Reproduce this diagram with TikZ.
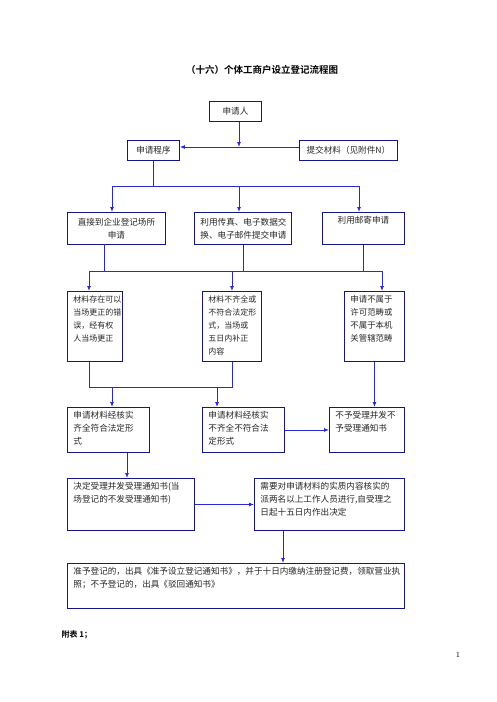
\documentclass[tikz,border=0pt]{standalone}
\usepackage{fontspec}
\usepackage{xcolor}
\usepackage{tikz}
\usetikzlibrary{arrows.meta}

\newfontfamily\cjk[BoldFont={Noto Sans CJK SC Bold}]{Noto Sans CJK SC}
\definecolor{boxblue}{RGB}{20,20,140}
\definecolor{lineblue}{RGB}{40,40,215}
\newcommand{\toptext}[3]{\parbox[t][#2][t]{#1}{#3}}

\begin{document}
\begin{tikzpicture}[x=1pt, y=-1pt,
    box/.style={draw=boxblue, line width=0.9pt, anchor=north west, inner xsep=6pt, inner ysep=4pt,
      text=black!85, font=\cjk\fontsize{8.6}{13}\selectfont},
    wire/.style={draw=lineblue, line width=0.9pt},
    link/.style={wire, -{Latex[length=5pt, width=4pt]}}]
  \useasboundingbox[fill=white] (0,0) rectangle (496,702);

  % Title
  \node[font=\cjk\bfseries\fontsize{9.5}{11}\selectfont] (title) at (262,70) {（十六）个体工商户设立登记流程图};

  % Applicant and procedure
  \node[box, inner sep=0pt, minimum width=52pt, minimum height=20pt] (apply) at (209,101) {申请人};
  \node[box, inner sep=0pt, minimum width=52pt, minimum height=20pt] (proc) at (127,140) {申请程序};
  \node[box, inner sep=0pt, minimum width=98pt, minimum height=20pt] (submit) at (299,140) {提交材料（见附件N）};

  % Three ways to apply
  \node[box, text width=86pt, align=center, minimum height=32pt] (direct) at (67,212) {直接到企业登记场所\\申请};
  \node[box, text width=85pt, align=center, minimum height=32pt] (fax) at (194,212) {利用传真、电子数据交\\换、电子邮件提交申请};
  \node[box] (mail) at (322,212) {\toptext{70pt}{24pt}{\centering 利用邮寄申请}};

  % Checking the materials
  \node[box, font=\cjk\fontsize{8}{13}\selectfont] (mat_ok) at (67,291) {\toptext{43pt}{62pt}{材料存在可以\\当场更正的错\\误，经有权\\人当场更正}};
  \node[box, font=\cjk\fontsize{8}{13}\selectfont] (mat_fix) at (202,291) {\toptext{47pt}{62pt}{材料不齐全或\\不符合法定形\\式，当场或\\五日内补正\\内容}};
  \node[box, font=\cjk\fontsize{8.4}{13}\selectfont] (mat_out) at (344,291) {\toptext{48pt}{62pt}{申请不属于\\许可范畴或\\不属于本机\\关管辖范畴}};

  % Outcome of the check
  \node[box] (ok_form) at (67,407) {\toptext{70pt}{37pt}{申请材料经核实\\齐全符合法定形\\式}};
  \node[box] (bad_form) at (202,407) {\toptext{70pt}{37pt}{申请材料经核实\\不齐全不符合法\\定形式}};
  \node[box] (refuse) at (329,407) {\toptext{63pt}{37pt}{不予受理并发不\\予受理通知书}};

  % Acceptance and decision
  \node[box] (accept) at (67,478) {\toptext{115pt}{44pt}{决定受理并发受理通知书(当\\场登记的不发受理通知书)}};
  \node[box] (verify) at (254,478) {\toptext{138pt}{44pt}{需要对申请材料的实质内容核实的\\派两名以上工作人员进行,自受理之\\日起十五日内作出决定}};
  \node[box] (result) at (67,563) {\toptext{325pt}{37pt}{准予登记的，出具《准予设立登记通知书》，并于十日内缴纳注册登记费，领取营业执\\照；不予登记的，出具《驳回通知书》}};

  % Footer
  \node[anchor=west, font=\cjk\bfseries\fontsize{8}{10}\selectfont] (note) at (58,635) {附表 1；};
  \node[font=\fontsize{8}{10}\selectfont] (page) at (458,655) {1};

  % Connectors: applicant -> procedure
  \coordinate (top_join) at (239,147);
  \draw[link] (apply.south -| top_join) -- (top_join);
  \draw[link] (submit.west |- top_join) -- (proc.east |- top_join);

  % procedure -> three ways
  \coordinate (bus1_l) at (112,186);
  \coordinate (bus1_m) at (239,186);
  \coordinate (bus1_r) at (359,186);
  \draw[wire] (proc.south) -- (proc.south |- bus1_l);
  \draw[wire] (bus1_l) -- (bus1_r);
  \draw[link] (bus1_l) -- (bus1_l |- direct.north);
  \draw[link] (bus1_m) -- (bus1_m |- fax.north);
  \draw[link] (bus1_r) -- (bus1_r |- mail.north);

  % three ways -> material checks
  \coordinate (bus2_l) at (89,271);
  \coordinate (bus2_m) at (232,271);
  \coordinate (bus2_r) at (382,271);
  \coordinate (direct_out) at (104,244);
  \draw[wire] (direct_out) -- (direct_out |- bus2_l);
  \draw[wire] (fax.south) -- (fax.south |- bus2_l);
  \draw[wire] (mail.south) -- (mail.south |- bus2_l);
  \draw[wire] (bus2_l) -- (bus2_r);
  \draw[link] (bus2_l) -- (bus2_l |- mat_ok.north);
  \draw[link] (bus2_m) -- (bus2_m |- mat_fix.north);
  \draw[link] (bus2_r) -- (bus2_r |- mat_out.north);

  % material checks -> outcome
  \coordinate (bus3_l) at (89,387);
  \coordinate (bus3_r) at (232,387);
  \coordinate (ok_in) at (112,387);
  \coordinate (bad_in) at (217,387);
  \draw[wire] (bus3_l |- mat_ok.south) -- (bus3_l) -- (bus3_r) -- (bus3_r |- mat_fix.south);
  \draw[link] (ok_in) -- (ok_in |- ok_form.north);
  \draw[link] (bad_in) -- (bad_in |- bad_form.north);
  \draw[link] (mat_out.south) -- (mat_out.south |- refuse.north);
  \draw[link] (bad_form.east) -- (refuse.west);

  % outcome -> decision
  \coordinate (accept_in) at (127,465);
  \coordinate (result_in) at (283,545);
  \draw[link] (ok_form.south -| accept_in) -- (accept.north -| accept_in);
  \draw[link] (accept.east) -- (verify.west);
  \draw[link] (verify.south -| result_in) -- (result.north -| result_in);
\end{tikzpicture}
\end{document}
